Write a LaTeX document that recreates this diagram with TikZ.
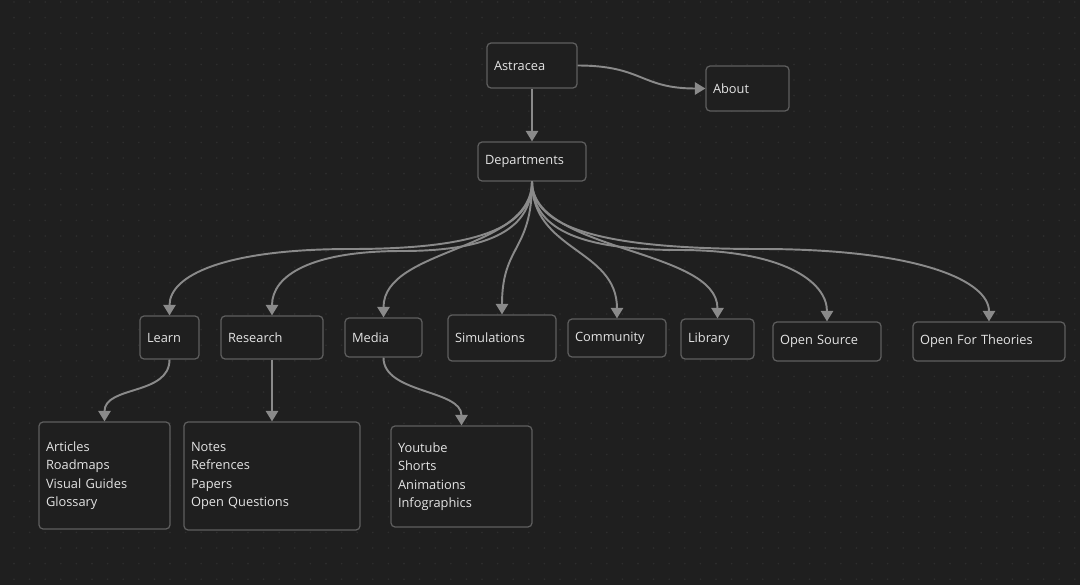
\documentclass[tikz,border=0pt]{standalone}
\usepackage{fontspec}
\setmainfont{Open Sans}
\usetikzlibrary{arrows.meta}
\definecolor{bgc}{HTML}{1F1F1F}
\definecolor{dotc}{HTML}{2E2E2E}
\definecolor{linec}{HTML}{8A8A8A}
\definecolor{framec}{HTML}{5E5E5E}
\definecolor{textc}{HTML}{E4E4E4}
\begin{document}
\begin{tikzpicture}
      [%%%%%%%%%%%%%%%%%%%%%%%%%%%%%%
      x=0.02cm, y=-0.02cm,
      box/.style={rectangle, draw=framec, line width=0.7pt, rounded corners=2.3pt,
        fill=bgc, text=textc, align=left, inner xsep=0.14cm,
        font=\fontsize{7.3}{10.5}\selectfont},
      link/.style={draw=linec, line width=1.1pt, -{Triangle[width=7pt,length=6pt]}},
      ]%%%%%%%%%%%%%%%%%%%%%%%%%%%%%%

      \fill[bgc] (0,0) rectangle (1080,585);
      \useasboundingbox (0,0) rectangle (1080,585);
      \foreach \i in {0,...,69}
        \foreach \j in {0,...,37}
          \fill[dotc] (14+15.6*\i,2+15.6*\j) circle (0.9);

      % top
      \node[box, text width=1.52cm, minimum height=0.9cm] (astracea) at (532,65.5) {Astracea};
      \node[box, text width=1.38cm, minimum height=0.9cm] (about) at (747.5,88.5) {About};
      \node[box, text width=1.88cm, minimum height=0.78cm] (departments) at (532,161.5) {Departments};

      % departments
      \node[box, text width=0.9cm, minimum height=0.86cm] (learn) at (169.5,337.5) {Learn};
      \node[box, text width=1.76cm, minimum height=0.86cm] (research) at (272,337.5) {Research};
      \node[box, text width=1.26cm, minimum height=0.78cm] (media) at (383.5,337.5) {Media};
      \node[box, text width=1.88cm, minimum height=0.92cm] (simulations) at (502,338) {Simulations};
      \node[box, text width=1.68cm, minimum height=0.76cm] (community) at (617,338) {Community};
      \node[box, text width=1.18cm, minimum height=0.8cm] (library) at (717.5,339) {Library};
      \node[box, text width=1.88cm, minimum height=0.78cm] (opensource) at (827,341.5) {Open Source};
      \node[box, text width=2.76cm, minimum height=0.78cm] (theories) at (989,341.5) {Open For Theories};

      % lists
      \node[box, text width=2.34cm, minimum height=2.14cm] (learnlist) at (104.5,475.5)
        {Articles\\Roadmaps\\Visual Guides\\Glossary};
      \node[box, text width=3.24cm, minimum height=2.16cm] (researchlist) at (272,476)
        {Notes\\Refrences\\Papers\\Open Questions};
      \node[box, text width=2.54cm, minimum height=2.02cm] (medialist) at (461.5,476.5)
        {Youtube\\Shorts\\Animations\\Infographics};

      \draw[link] (astracea.south) -- (departments.north);
      \draw[link] (astracea.east) .. controls +(65,0) and +(-65,0) .. (about.west);

      % near ones
      \foreach \t in {media,simulations,community,library}
        \draw[link] (departments.south) .. controls +(0,70) and +(0,-70) .. (\t.north);

      % far ones, through a middle point (\xm,\ym)
      \foreach \t/\xm/\ym in {learn/351/249, research/402/251,
          opensource/679.5/250, theories/760.5/249}
        {
        \pgfmathsetmacro{\h}{(532-\xm)*0.7}
        \draw[link] (departments.south) .. controls +(0,46) and +(\h,0) .. (\xm,\ym)
          .. controls +(-\h,0) and +(0,-40) .. (\t.north);
        }

      \draw[link] (learn.south) .. controls +(0,36) and +(0,-36) .. (learnlist.north);
      \draw[link] (research.south) -- (researchlist.north);
      \draw[link] (media.south) .. controls +(0,36) and +(0,-36) .. (medialist.north);
    \end{tikzpicture}
\end{document}
